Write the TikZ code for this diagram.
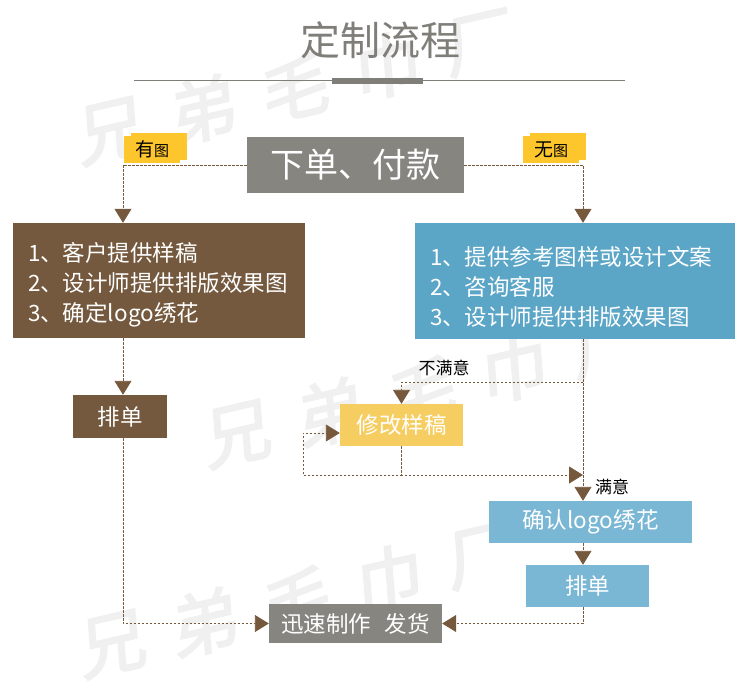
\documentclass[tikz,border=0pt]{standalone}
\usepackage{fontspec}
\setmainfont{Noto Sans CJK SC}
\newfontfamily\wmfont[FakeBold=3,FakeSlant=0.15]{Noto Sans CJK SC}
\usetikzlibrary{arrows.meta,backgrounds}
\definecolor{titlegray}{HTML}{7F7E79}
\definecolor{boxgray}{HTML}{878580}
\definecolor{boxbrown}{HTML}{74593E}
\definecolor{boxblue}{HTML}{5BA5C7}
\definecolor{boxlightblue}{HTML}{7AB7D5}
\definecolor{boxyellow}{HTML}{F6CD60}
\definecolor{tagyellow}{HTML}{FCC62C}
\definecolor{linkbrown}{HTML}{76593D}
\begin{document}
\begin{tikzpicture}[x=1pt,y=-1pt,>={Triangle[length=14pt,width=17pt]},line join=round,
	box/.style={fill=#1,text=white,inner sep=0pt,font=\fontsize{22.5}{30}\selectfont},
	listbox/.style={box=#1,inner xsep=15pt,align=left,font=\fontsize{22.5}{30}\selectfont},
	link/.style={draw=linkbrown,line width=0.9pt,dash pattern=on 2.5pt off 1.5pt},
	tag/.style={fill=tagyellow,minimum width=56pt,minimum height=27pt,inner sep=0pt,font=\fontsize{19}{19}\selectfont},
	note/.style={inner sep=0pt,font=\fontsize{17}{17}\selectfont},
	wmark/.style={text=black!6,inner sep=0pt,font=\wmfont\fontsize{68}{68}\selectfont,rotate=13}]
	\useasboundingbox (0,0) rectangle (750,687);
	\begin{scope}[on background layer]
		\foreach \sx/\sy/\k in {108/132/a,235/435/b,110/645/c}
			\foreach \c [count=\i from 0] in {兄,弟,毛,巾,厂}
				\node[wmark] (wm-\k\i) at (\sx+92*\i,\sy-22*\i) {\c};
	\end{scope}
	\node[text=titlegray,inner sep=0pt,font=\fontsize{40}{40}\selectfont] (title) at (380.5,40) {定制流程};
	\draw[titlegray,line width=1pt] (134,81)--(625,81);
	\fill[titlegray] (332,78) rectangle (423,84.5);
	\node[box=boxgray,minimum width=217pt,minimum height=56pt,font=\fontsize{34}{34}\selectfont] (order) at (355.5,165) {下单、付款};
	\node[tag] (withpic) at (152,149.5) {有{\fontsize{15}{15}\selectfont 图}};
	\node[tag] (nopic) at (551,149.5) {无{\fontsize{15}{15}\selectfont 图}};
	\begin{scope}[on background layer]
		\foreach \t in {withpic,nopic}
			\fill[tagyellow] ([xshift=7pt,yshift=3pt]\t.south west) rectangle ([xshift=7pt,yshift=3pt]\t.north east);
	\end{scope}
	\node[listbox=boxbrown,text width=262pt,minimum height=115pt] (client) at (159,280.5) {\rule{0pt}{28pt}1、客户提供样稿\\2、设计师提供排版效果图\\3、确定logo绣花};
	\node[listbox=boxblue,text width=290pt,minimum height=116pt] (design) at (575,281) {\rule{0pt}{30pt}1、提供参考图样或设计文案\\2、咨询客服\\3、设计师提供排版效果图};
	\node[box=boxbrown,minimum width=94pt,minimum height=43pt] (planL) at (120,416.5) {排单};
	\node[box=boxyellow,minimum width=123pt,minimum height=42pt] (revise) at (401.5,425) {修改样稿};
	\node[box=boxlightblue,minimum width=203pt,minimum height=42pt] (confirm) at (590.5,522) {确认logo绣花};
	\node[box=boxlightblue,minimum width=123pt,minimum height=42pt] (planR) at (587.5,586) {排单};
	\node[box=boxgray,minimum width=173pt,minimum height=39pt] (ship) at (355.5,623.5) {迅速制作\hspace{0.6em}发货};
	\node[note] (unsat) at (444,368) {不满意};
	\node[note] (sat) at (612,487) {满意};
	\coordinate (lc) at (123,0);
	\coordinate (rc) at (583,0);
	\coordinate (fork) at (583,382);
	\coordinate (join) at (583,475);
	\coordinate (back) at (303,475);
	\draw[link,->] (order.west) -| (client.north -| lc);
	\draw[link,->] (order.east) -| (design.north -| rc);
	\draw[link,->] (client.south -| lc) -- (planL.north -| lc);
	\draw[link,->] (planL.south -| lc) |- (ship.west);
	\draw[link,->] (design.south -| rc) -- (confirm.north -| rc);
	\draw[link,->] (fork) -| (revise.north);
	\draw[link,->] (revise.south) |- (join);
	\draw[link,->] (revise.south) |- (back) |- ([yshift=-8pt]revise.west);
	\draw[link,->] (confirm.south -| rc) -- (planR.north -| rc);
	\draw[link,->] (planR.south -| rc) |- (ship.east);
\end{tikzpicture}
\end{document}
